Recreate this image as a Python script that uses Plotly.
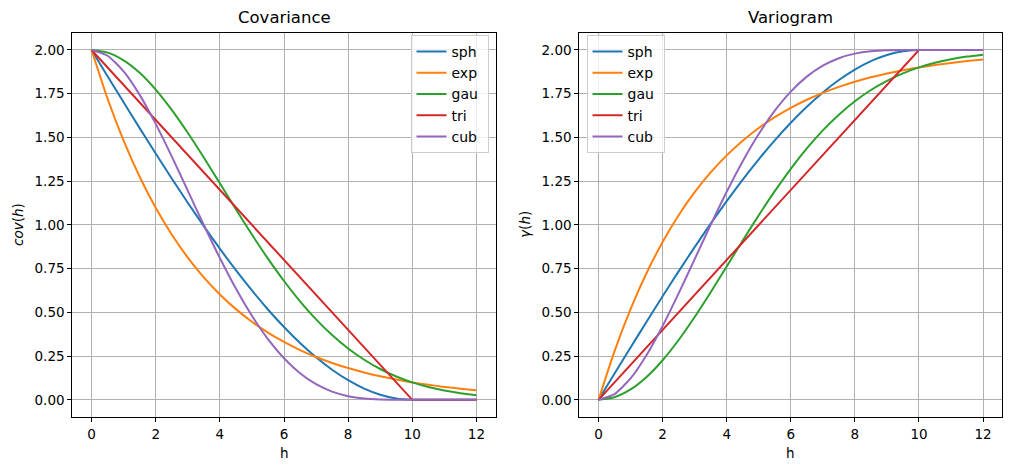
import plotly.graph_objects as go

# lag distances
h = [0, 0.5, 1, 1.5, 2, 2.5, 3, 3.5, 4, 4.5, 5, 5.5, 6, 6.5, 7, 7.5, 8, 8.5, 9, 9.5, 10, 10.5, 11, 11.5, 12]

# covariance values
cov_sph = [2.0, 1.8501, 1.701, 1.5534, 1.408, 1.2656, 1.127, 0.9929, 0.864, 0.7411, 0.625, 0.5164, 0.416, 0.3246, 0.243, 0.1719, 0.112, 0.0641, 0.029, 0.0074, 0.0, 0.0, 0.0, 0.0, 0.0]
cov_exp = [2.0, 1.7214, 1.4816, 1.2753, 1.0976, 0.9447, 0.8131, 0.6999, 0.6024, 0.5185, 0.4463, 0.3841, 0.3306, 0.2845, 0.2449, 0.2108, 0.1814, 0.1562, 0.1344, 0.1157, 0.0996, 0.0857, 0.0738, 0.0635, 0.0546]
cov_gau = [2.0, 1.9851, 1.9409, 1.8695, 1.7738, 1.6581, 1.5268, 1.3849, 1.2376, 1.0894, 0.9447, 0.8071, 0.6792, 0.5631, 0.4599, 0.37, 0.2932, 0.2289, 0.1761, 0.1334, 0.0996, 0.0732, 0.053, 0.0378, 0.0266]
cov_tri = [2.0, 1.9, 1.8, 1.7, 1.6, 1.5, 1.4, 1.3, 1.2, 1.1, 1.0, 0.9, 0.8, 0.7, 0.6, 0.5, 0.4, 0.3, 0.2, 0.1, 0.0, 0.0, 0.0, 0.0, 0.0]
cov_cub = [2.0, 1.9672, 1.8774, 1.7435, 1.5778, 1.3917, 1.1958, 0.9995, 0.8108, 0.6361, 0.4805, 0.3471, 0.2377, 0.1523, 0.0895, 0.0469, 0.0208, 0.0071, 0.0015, 0.0001, 0.0, 0.0, 0.0, 0.0, 0.0]

# variogram values
var_sph = [0.0, 0.1499, 0.299, 0.4466, 0.592, 0.7344, 0.873, 1.0071, 1.136, 1.2589, 1.375, 1.4836, 1.584, 1.6754, 1.757, 1.8281, 1.888, 1.9359, 1.971, 1.9926, 2.0, 2.0, 2.0, 2.0, 2.0]
var_exp = [0.0, 0.2786, 0.5184, 0.7247, 0.9024, 1.0553, 1.1869, 1.3001, 1.3976, 1.4815, 1.5537, 1.6159, 1.6694, 1.7155, 1.7551, 1.7892, 1.8186, 1.8438, 1.8656, 1.8843, 1.9004, 1.9143, 1.9262, 1.9365, 1.9454]
var_gau = [0.0, 0.0149, 0.0591, 0.1305, 0.2262, 0.3419, 0.4732, 0.6151, 0.7624, 0.9106, 1.0553, 1.1929, 1.3208, 1.4369, 1.5401, 1.63, 1.7068, 1.7711, 1.8239, 1.8666, 1.9004, 1.9268, 1.947, 1.9622, 1.9734]
var_tri = [0.0, 0.1, 0.2, 0.3, 0.4, 0.5, 0.6, 0.7, 0.8, 0.9, 1.0, 1.1, 1.2, 1.3, 1.4, 1.5, 1.6, 1.7, 1.8, 1.9, 2.0, 2.0, 2.0, 2.0, 2.0]
var_cub = [0.0, 0.0328, 0.1226, 0.2565, 0.4222, 0.6083, 0.8042, 1.0005, 1.1892, 1.3639, 1.5195, 1.6529, 1.7623, 1.8477, 1.9105, 1.9531, 1.9792, 1.9929, 1.9985, 1.9999, 2.0, 2.0, 2.0, 2.0, 2.0]

names = ["sph", "exp", "gau", "tri", "cub"]
colors = ["#1f77b4", "#ff7f0e", "#2ca02c", "#d62728", "#9467bd"]
cov_series = [cov_sph, cov_exp, cov_gau, cov_tri, cov_cub]
var_series = [var_sph, var_exp, var_gau, var_tri, var_cub]

FONT = "DejaVu Sans"
PAD = "\u00a0"
fig = go.Figure()

for name, col, ys in zip(names, colors, cov_series):
    fig.add_trace(go.Scatter(
        x=h, y=ys, mode="lines", name=name + PAD, xaxis="x", yaxis="y",
        line=dict(color=col, width=2, shape="linear" if name == "tri" else "spline", smoothing=0.6),
        legend="legend"))
for name, col, ys in zip(names, colors, var_series):
    fig.add_trace(go.Scatter(
        x=h, y=ys, mode="lines", name=name + PAD, xaxis="x2", yaxis="y2",
        line=dict(color=col, width=2, shape="linear" if name == "tri" else "spline", smoothing=0.6),
        legend="legend2"))

W, H = 1012, 470
L1, R1 = 72.3 / W, 495.7 / W
L2, R2 = 579.3 / W, 1002.3 / W
TOP, BOT = 1 - 32.5 / H, 1 - 417.3 / H

axis_common = dict(
    showline=True, mirror=True, linecolor="black", linewidth=1,
    showgrid=True, gridcolor="#b0b0b0", gridwidth=0.8,
    ticks="outside", ticklen=4, tickwidth=1, tickcolor="black",
    tickfont=dict(family=FONT, size=13.5, color="black"),
    zeroline=False,
)
xcommon = dict(axis_common, range=[-0.6, 12.6], tickvals=[0, 2, 4, 6, 8, 10, 12])
ycommon = dict(axis_common, range=[-0.1, 2.1],
               tickvals=[0, 0.25, 0.5, 0.75, 1.0, 1.25, 1.5, 1.75, 2.0], tickformat=".2f")

legend_style = dict(
    bgcolor="rgba(255,255,255,0.8)", bordercolor="#cccccc", borderwidth=1,
    font=dict(family=FONT, size=14, color="black"), yanchor="top",
    itemwidth=30, tracegroupgap=0,
)

fig.update_layout(
    width=W, height=H,
    margin=dict(l=0, r=0, t=0, b=0),
    paper_bgcolor="white", plot_bgcolor="white",
    font=dict(family=FONT, color="black"),
    xaxis=dict(xcommon, domain=[L1, R1], anchor="y"),
    yaxis=dict(ycommon, domain=[BOT, TOP], anchor="x"),
    xaxis2=dict(xcommon, domain=[L2, R2], anchor="y2"),
    yaxis2=dict(ycommon, domain=[BOT, TOP], anchor="x2"),
    legend=dict(legend_style, x=488.5 / W, xanchor="right", y=1 - 35 / H),
    legend2=dict(legend_style, x=586.5 / W, xanchor="left", y=1 - 35 / H),
    showlegend=True,
    annotations=[
        dict(text="Covariance", x=(L1 + R1) / 2, y=1 - 17 / H, xref="paper", yref="paper",
             showarrow=False, font=dict(family=FONT, size=16.5), xanchor="center", yanchor="middle"),
        dict(text="Variogram", x=(L2 + R2) / 2, y=1 - 17 / H, xref="paper", yref="paper",
             showarrow=False, font=dict(family=FONT, size=16.5), xanchor="center", yanchor="middle"),
        dict(text="h", x=(L1 + R1) / 2, y=1 - 453 / H, xref="paper", yref="paper",
             showarrow=False, font=dict(family=FONT, size=13.5), xanchor="center", yanchor="middle"),
        dict(text="h", x=(L2 + R2) / 2, y=1 - 453 / H, xref="paper", yref="paper",
             showarrow=False, font=dict(family=FONT, size=13.5), xanchor="center", yanchor="middle"),
        dict(text="<i>cov</i>(<i>h</i>)", x=18 / W, y=(BOT + TOP) / 2, xref="paper", yref="paper",
             showarrow=False, textangle=-90, font=dict(family=FONT, size=13.5),
             xanchor="center", yanchor="middle"),
        dict(text="<i>γ</i>(<i>h</i>)", x=525 / W, y=(BOT + TOP) / 2, xref="paper", yref="paper",
             showarrow=False, textangle=-90, font=dict(family=FONT, size=13.5),
             xanchor="center", yanchor="middle"),
    ],
)

fig.write_html("out.html")
